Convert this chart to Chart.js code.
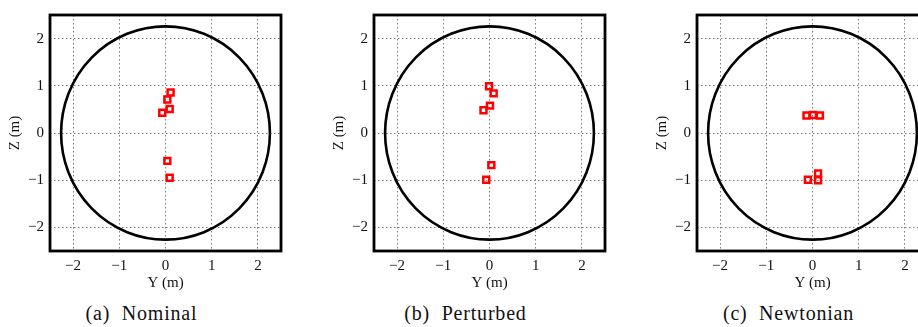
<!DOCTYPE html>
<html>
<head>
<meta charset="utf-8">
<script src="https://cdn.jsdelivr.net/npm/chart.js@4"></script>
<style>
  html, body { margin: 0; padding: 0; background: #fff; }
  #wrap { position: relative; width: 918px; height: 327px; overflow: hidden; }
  .panel { position: absolute; top: 0; width: 323px; height: 327px; }
  .panel canvas { position: absolute; left: 0; top: 0; }
  .caption {
    position: absolute; top: 302px; left: 0; width: 283px;
    text-align: center; white-space: pre;
    font-family: 'Liberation Serif', serif; font-size: 20px; color: #111;
    letter-spacing: 0.8px;
  }
</style>
</head>
<body>
<div id="wrap"></div>
<script>
// tick positions shared by both axes
const tickValues = [-2, -1, 0, 1, 2];
const axisMin = -2.5;
const axisMax = 2.5;
const circleRadius = 2.26;

// marker positions (Y, Z)
const nominalY = [0.11, 0.04, 0.09, -0.07, 0.04, 0.09];
const nominalZ = [0.86, 0.71, 0.51, 0.43, -0.59, -0.95];

const perturbedY = [-0.01, 0.09, 0.01, -0.13, 0.04, -0.07];
const perturbedZ = [0.99, 0.84, 0.58, 0.48, -0.68, -0.99];

const newtonianY = [-0.13, 0.01, 0.16, -0.10, 0.12, 0.12];
const newtonianZ = [0.37, 0.38, 0.37, -0.99, -0.86, -1.00];

const captions = ['(a)  Nominal', '(b)  Perturbed', '(c)  Newtonian'];
const panelLeft = [0, 324, 647];

const serif = "'Liberation Serif', serif";

function fmtTick(v) {
    return v < 0 ? '\u2212' + (-v) : String(v);
}

// black circle (the boundary) drawn through the scales
const circlePlugin = {
    id: 'boundary',
    beforeDatasetsDraw(chart) {
        const { ctx, scales: { x, y } } = chart;
        const cx = x.getPixelForValue(0);
        const cy = y.getPixelForValue(0);
        const rx = Math.abs(x.getPixelForValue(circleRadius) - cx);
        const ry = Math.abs(y.getPixelForValue(circleRadius) - cy);
        ctx.save();
        ctx.beginPath();
        ctx.ellipse(cx, cy, rx, ry, 0, 0, Math.PI * 2);
        ctx.lineWidth = 2.6;
        ctx.strokeStyle = '#000';
        ctx.stroke();
        ctx.restore();
    }
};

// thick box round the plot area
const framePlugin = {
    id: 'frame',
    afterDraw(chart) {
        const { ctx, chartArea: a } = chart;
        ctx.save();
        ctx.lineWidth = 2.8;
        ctx.strokeStyle = '#000';
        ctx.strokeRect(a.left, a.top, a.right - a.left, a.bottom - a.top);
        ctx.restore();
    }
};

function makeAxis(titleText, isX) {
    return {
        type: 'linear',
        min: axisMin,
        max: axisMax,
        afterBuildTicks: s => { s.ticks = tickValues.map(v => ({ value: v })); },
        afterFit: s => {
            if (isX) s.height = 49;
            else s.width = 50;
        },
        grid: {
            color: '#7a7a7a',
            lineWidth: 1,
            drawTicks: false
        },
        border: { display: false },
        ticks: {
            color: '#111',
            padding: 6,
            font: { family: serif, size: 15 },
            callback: fmtTick
        },
        title: {
            display: true,
            text: titleText,
            color: '#111',
            font: { family: serif, size: 15 },
            padding: isX ? { top: 0, bottom: 8 } : { top: 6, bottom: 0 }
        }
    };
}

const panels = [
    [nominalY, nominalZ],
    [perturbedY, perturbedZ],
    [newtonianY, newtonianZ]
];

const wrap = document.getElementById('wrap');

panels.forEach((p, i) => {
    const div = document.createElement('div');
    div.className = 'panel';
    div.style.left = panelLeft[i] + 'px';
    const canvas = document.createElement('canvas');
    canvas.width = 323;
    canvas.height = 300;
    canvas.style.width = '323px';
    canvas.style.height = '300px';
    div.appendChild(canvas);
    const cap = document.createElement('div');
    cap.className = 'caption';
    cap.textContent = captions[i];
    div.appendChild(cap);
    wrap.appendChild(div);

    const xAxis = makeAxis('Y (m)', true);
    const yAxis = makeAxis('Z (m)', false);
    // dotted grid like MATLAB's ':' style
    xAxis.border.dash = [1.5, 2.5];
    yAxis.border.dash = [1.5, 2.5];

    new Chart(canvas, {
        type: 'scatter',
        data: {
            datasets: [{
                data: p[0].map((v, k) => ({ x: v, y: p[1][k] })),
                pointStyle: 'rect',
                pointRadius: 4.2,
                borderWidth: 2.5,
                borderColor: '#ff0000',
                backgroundColor: 'rgba(0,0,0,0)'
            }]
        },
        options: {
            responsive: false,
            animation: false,
            devicePixelRatio: 1,
            layout: { padding: { left: 0, top: 10, right: 42, bottom: 0 } },
            plugins: {
                legend: { display: false },
                tooltip: { enabled: false }
            },
            scales: {
                x: xAxis,
                y: yAxis
            }
        },
        plugins: [circlePlugin, framePlugin]
    });
});
</script>
</body>
</html>
